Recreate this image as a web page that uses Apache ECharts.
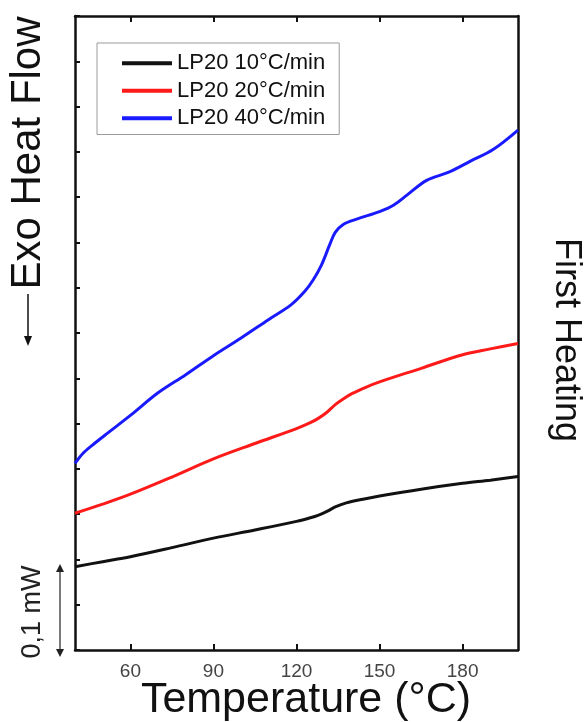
<!DOCTYPE html>
<html>
<head>
<meta charset="utf-8">
<script src="https://cdn.jsdelivr.net/npm/echarts@6/dist/echarts.min.js"></script>
<style>
  html, body { margin: 0; padding: 0; background: #fff; }
  #chart { width: 585px; height: 722px; }
</style>
</head>
<body>
<div id="chart"></div>
<script>
// DSC first-heating curves of LP20 at three heating rates (arbitrary heat-flow units, offset)
const temperature10 = [40, 50, 60, 75, 90, 105, 120, 125, 128, 131, 134, 138, 144, 150, 165, 180, 190, 200];
const heatFlow10    = [1.84, 1.95, 2.06, 2.26, 2.47, 2.65, 2.84, 2.92, 2.98, 3.06, 3.16, 3.25, 3.33, 3.40, 3.55, 3.68, 3.75, 3.83];

const temperature20 = [40, 50, 60, 75, 90, 105, 120, 125, 128, 131, 134, 137, 140, 145, 150, 165, 180, 190, 200];
const heatFlow20    = [3.02, 3.22, 3.44, 3.82, 4.22, 4.56, 4.89, 5.02, 5.12, 5.25, 5.42, 5.55, 5.66, 5.80, 5.92, 6.22, 6.52, 6.65, 6.77];

const temperature40 = [40, 43, 47, 52, 60, 70, 80, 90, 100, 110, 118, 123, 126, 129, 132, 134, 137, 142, 150, 155, 160, 167, 175, 183, 191, 200];
const heatFlow40    = [4.12, 4.35, 4.56, 4.80, 5.18, 5.68, 6.08, 6.50, 6.89, 7.30, 7.62, 7.92, 8.17, 8.50, 8.95, 9.22, 9.40, 9.52, 9.68, 9.82, 10.05, 10.37, 10.55, 10.80, 11.05, 11.48];

const seriesNames = ['LP20 10°C/min', 'LP20 20°C/min', 'LP20 40°C/min'];
const seriesColors = ['#111111', '#ff1a1a', '#1a1aff'];
const xTicks = [60, 90, 120, 150, 180];

const pairs = (xs, ys) => xs.map((x, i) => [x, ys[i]]);

const chart = echarts.init(document.getElementById('chart'), null, { renderer: 'canvas' });

const axisLineStyle = { color: '#111', width: 2.5 };
const tickLineStyle = { color: '#111', width: 2 };
const fontFamily = 'Liberation Sans, Arial, sans-serif';

chart.setOption({
  animation: false,
  backgroundColor: '#fff',
  grid: { left: 75, right: 67, top: 16, bottom: 72 },
  legend: {
    orient: 'vertical',
    left: 97,
    top: 43,
    padding: [9, 14, 5, 25],
    borderColor: '#9a9a9a',
    borderWidth: 1,
    icon: 'rect',
    itemWidth: 50,
    itemHeight: 4,
    itemGap: 5,
    textStyle: { fontFamily, fontSize: 22, color: '#111', lineHeight: 22.5 },
    data: seriesNames
  },
  xAxis: [
    {
      type: 'value', min: 40, max: 200, position: 'bottom',
      axisLine: { onZero: false, lineStyle: axisLineStyle },
      axisTick: { show: true, inside: true, length: 6, lineStyle: tickLineStyle, customValues: xTicks },
      axisLabel: { customValues: xTicks, fontFamily, fontSize: 19, color: '#444', margin: 12 },
      splitLine: { show: false }
    },
    {
      // mirrored top frame edge with the same ticks
      type: 'value', min: 40, max: 200, position: 'top',
      axisLine: { onZero: false, lineStyle: axisLineStyle },
      axisTick: { show: true, inside: true, length: 6, lineStyle: tickLineStyle, customValues: xTicks },
      axisLabel: { show: true, customValues: xTicks, formatter: () => '' },
      splitLine: { show: false }
    }
  ],
  yAxis: [
    {
      type: 'value', min: 0, max: 14, interval: 1, position: 'left',
      axisLine: { show: true, onZero: false, lineStyle: axisLineStyle },
      axisTick: { show: true, inside: true, length: 5, lineStyle: tickLineStyle },
      axisLabel: { show: false },
      splitLine: { show: false }
    },
    {
      type: 'value', min: 0, max: 14, position: 'right',
      axisLine: { show: true, onZero: false, lineStyle: axisLineStyle },
      axisTick: { show: false },
      axisLabel: { show: false },
      splitLine: { show: false }
    }
  ],
  series: [
    { name: seriesNames[0], data: pairs(temperature10, heatFlow10) },
    { name: seriesNames[1], data: pairs(temperature20, heatFlow20) },
    { name: seriesNames[2], data: pairs(temperature40, heatFlow40) }
  ].map((s, i) => ({
    ...s,
    type: 'line',
    xAxisIndex: 0,
    yAxisIndex: 0,
    smooth: 0.35,
    symbol: 'none',
    color: seriesColors[i],
    lineStyle: { color: seriesColors[i], width: 3 }
  })),
  graphic: [
    {
      type: 'text', x: 28, y: 153, rotation: Math.PI / 2,
      style: { text: 'Exo Heat Flow', font: '42px ' + fontFamily, fill: '#111', align: 'center', verticalAlign: 'middle' }
    },
    { type: 'line', shape: { x1: 28, y1: 294, x2: 28, y2: 340 }, style: { stroke: '#111', lineWidth: 1.5 } },
    { type: 'polygon', shape: { points: [[24, 336], [32, 336], [28, 346]] }, style: { fill: '#111' } },
    {
      type: 'text', x: 33, y: 612, rotation: Math.PI / 2,
      style: { text: '0,1 mW', font: '27px ' + fontFamily, fill: '#222', align: 'center', verticalAlign: 'middle' }
    },
    { type: 'line', shape: { x1: 60, y1: 568, x2: 60, y2: 652 }, style: { stroke: '#222', lineWidth: 1.2 } },
    { type: 'polygon', shape: { points: [[56, 572], [64, 572], [60, 564]] }, style: { fill: '#222' } },
    { type: 'polygon', shape: { points: [[56, 649], [64, 649], [60, 657]] }, style: { fill: '#222' } },
    {
      type: 'text', x: 566, y: 340, rotation: -Math.PI / 2,
      style: { text: 'First Heating', font: '36px ' + fontFamily, fill: '#111', align: 'center', verticalAlign: 'middle' }
    },
    {
      type: 'text', x: 306, y: 700,
      style: { text: 'Temperature (°C)', font: '43px ' + fontFamily, fill: '#111', align: 'center', verticalAlign: 'middle' }
    }
  ]
});
</script>
</body>
</html>
